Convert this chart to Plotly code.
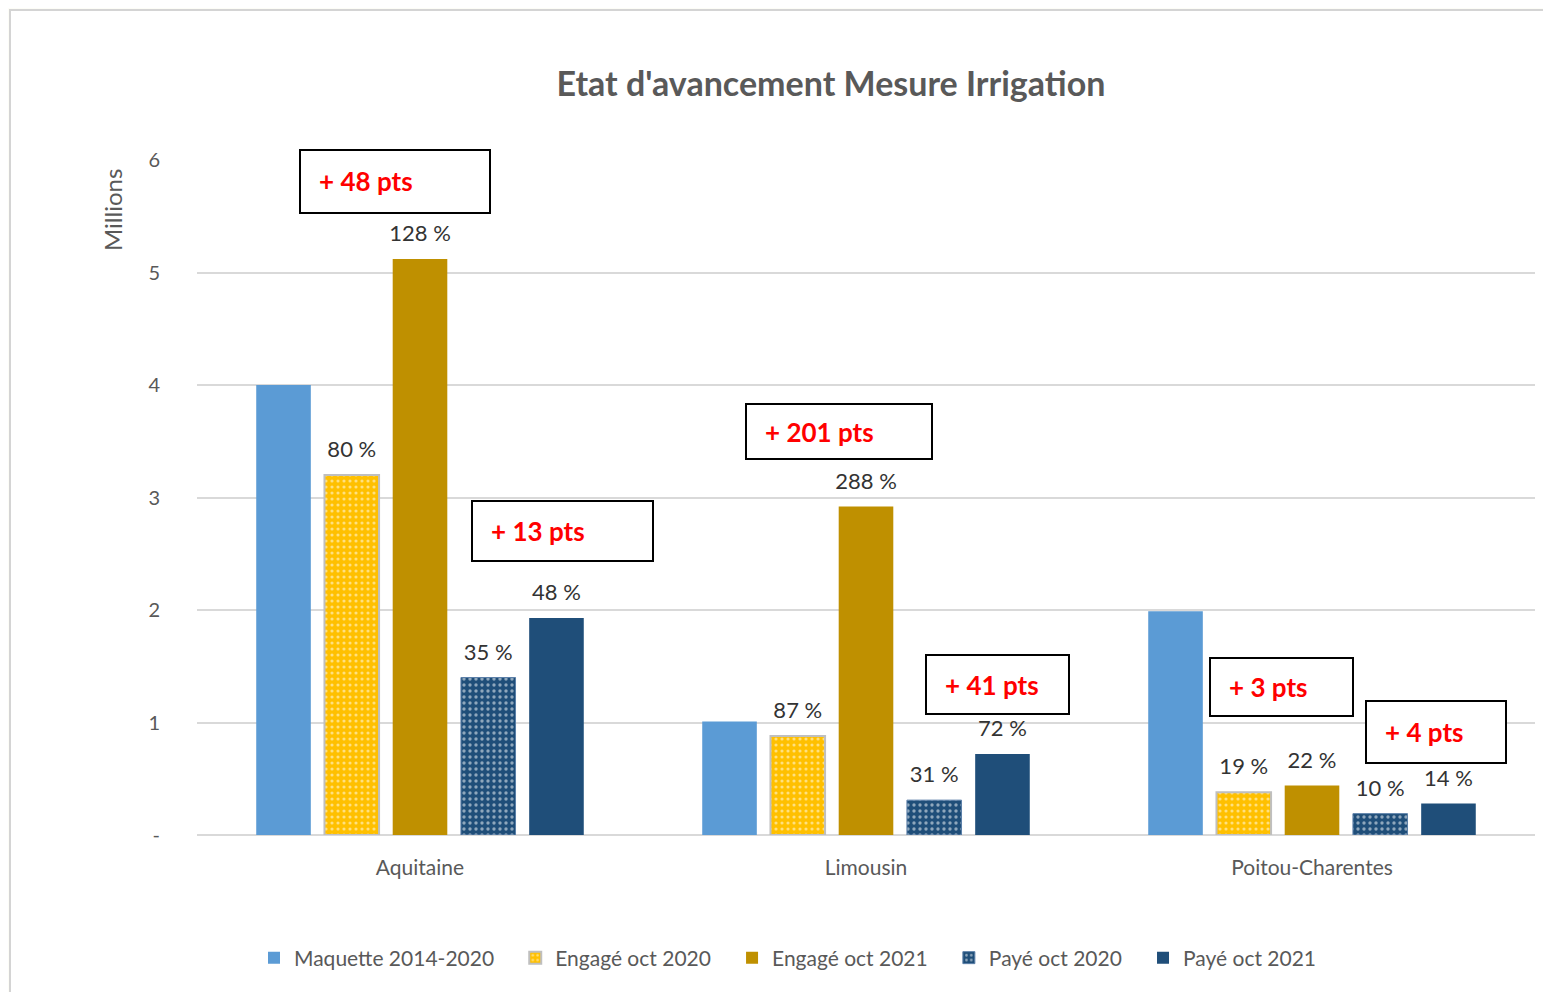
import plotly.graph_objects as go

# ---------------- data ----------------
categories = ["Aquitaine", "Limousin", "Poitou-Charentes"]
series_names = ["Maquette 2014-2020", "Engagé oct 2020", "Engagé oct 2021", "Payé oct 2020", "Payé oct 2021"]
maquette = [4.00, 1.01, 1.99]
engage_2020 = [3.20, 0.88, 0.38]
engage_2021 = [5.12, 2.92, 0.44]
paye_2020 = [1.40, 0.31, 0.19]
paye_2021 = [1.93, 0.72, 0.28]
labels_engage_2020 = ["80 %", "87 %", "19 %"]
labels_engage_2021 = ["128 %", "288 %", "22 %"]
labels_paye_2020 = ["35 %", "31 %", "10 %"]
labels_paye_2021 = ["48 %", "72 %", "14 %"]
delta_labels = ["+ 48 pts", "+ 13 pts", "+ 201 pts", "+ 41 pts", "+ 3 pts", "+ 4 pts"]
y_tickvals = [0, 1, 2, 3, 4, 5, 6]
y_ticktext = ["-", "1", "2", "3", "4", "5", "6"]

# ---------------- geometry (page pixels; the page body adds an 8px offset) ----------------
OFF = 8
W, H = 1551 - OFF, 992 - OFF
ML, MR, MT, MB = 197 - OFF, 16, 160 - OFF, 157
PW = W - ML - MR
PH = H - MT - MB


def px2x(px):
    return (px - OFF - ML) / PW


def px2y(py):
    return (H - MB - (py - OFF)) / PH


FONT = "Lato"
GREY = "#595959"
LABEL = "#333333"


def lift(labels):
    # big label on the first line, a small empty second line to raise it above the bar
    return ["<span style='font-size:22px'>%s</span><br> " % t for t in labels]


fig = go.Figure()

common = dict(x=categories, textposition="outside", cliponaxis=False, constraintext="none",
              textfont=dict(family=FONT, size=10, color=LABEL))
PAD = "\u00a0\u00a0\u00a0"

fig.add_trace(go.Bar(name=series_names[0] + PAD, y=maquette, x=categories,
                     marker=dict(color="#5B9BD5", line=dict(width=0))))
fig.add_trace(go.Bar(name=series_names[1] + PAD, y=engage_2020, text=lift(labels_engage_2020),
                     marker=dict(color="#FFC000", line=dict(color="#BFBFBF", width=2),
                                 pattern=dict(shape=".", fgcolor="white", bgcolor="#FFC000",
                                              fillmode="overlay", size=6, solidity=0.22)),
                     **common))
fig.add_trace(go.Bar(name=series_names[2] + PAD, y=engage_2021, text=lift(labels_engage_2021),
                     marker=dict(color="#BF9000", line=dict(width=0)), **common))
fig.add_trace(go.Bar(name=series_names[3] + PAD, y=paye_2020, text=lift(labels_paye_2020),
                     marker=dict(color="#1F4E79", line=dict(color="#5B7FA8", width=1),
                                 pattern=dict(shape=".", fgcolor="white", bgcolor="#1F4E79",
                                              fillmode="overlay", size=6, solidity=0.25)),
                     **common))
fig.add_trace(go.Bar(name=series_names[4], y=paye_2021, text=lift(labels_paye_2021),
                     marker=dict(color="#1F4E79", line=dict(width=0)), **common))

shapes = [
    # outer white frame
    dict(type="rect", xref="paper", yref="paper", layer="below",
         x0=px2x(10), x1=px2x(1600), y0=px2y(1050), y1=px2y(10),
         fillcolor="white", line=dict(color="#D4D4D4", width=2)),
]
annotations = []

boxes = [  # pixel boxes (x0, y0, x1, y1) for delta labels
    (300, 150, 490, 213),
    (472, 501, 653, 561),
    (746, 404, 932, 459),
    (926, 655, 1069, 714),
    (1210, 658, 1353, 716),
    (1366, 701, 1506, 763),
]
for (x0, y0, x1, y1), txt in zip(boxes, delta_labels):
    shapes.append(dict(type="rect", xref="paper", yref="paper",
                       x0=px2x(x0), x1=px2x(x1), y0=px2y(y1), y1=px2y(y0),
                       fillcolor="white", line=dict(color="black", width=2)))
    annotations.append(dict(xref="paper", yref="paper", x=px2x(x0 + 17), y=px2y((y0 + y1) / 2),
                            xanchor="left", yanchor="middle", showarrow=False,
                            text="<b>%s</b>" % txt,
                            font=dict(family=FONT, size=26, color="#FF0000")))

annotations.append(dict(xref="paper", yref="paper", x=px2x(112), y=px2y(210),
                        xanchor="center", yanchor="middle", showarrow=False, textangle=-90,
                        text="Millions", font=dict(family=FONT, size=24, color=GREY)))

fig.update_layout(
    width=W, height=H,
    margin=dict(l=ML, r=MR, t=MT, b=MB, pad=0),
    paper_bgcolor="#FDFDF7",
    plot_bgcolor="white",
    barmode="group",
    bargap=0.235,
    bargroupgap=0.2,
    title=dict(text="<b>Etat d'avancement Mesure Irrigation</b>", x=(831 - OFF) / W, xanchor="center",
               y=1 - (84 - OFF) / H, yanchor="middle", xref="container", yref="container",
               font=dict(family=FONT, size=34, color=GREY)),
    font=dict(family=FONT, color=GREY),
    showlegend=True,
    legend=dict(orientation="h", x=px2x(788), xanchor="center", y=px2y(958), yanchor="middle",
                font=dict(family=FONT, size=21, color=GREY), itemwidth=30,
                bgcolor="rgba(0,0,0,0)", tracegroupgap=0),
    xaxis=dict(showgrid=False, showline=False, ticks="", tickfont=dict(family=FONT, size=21, color=GREY),
               ticklabelstandoff=18),
    yaxis=dict(range=[0, 6], tickvals=y_tickvals, ticktext=y_ticktext, showgrid=True,
               gridcolor="#D9D9D9", gridwidth=1.5, zeroline=True, zerolinecolor="#D9D9D9",
               zerolinewidth=1.5, showline=False, ticks="",
               tickfont=dict(family=FONT, size=20, color=GREY), ticklabelstandoff=36),
    shapes=shapes,
    annotations=annotations,
)

fig.write_html("out.html")
